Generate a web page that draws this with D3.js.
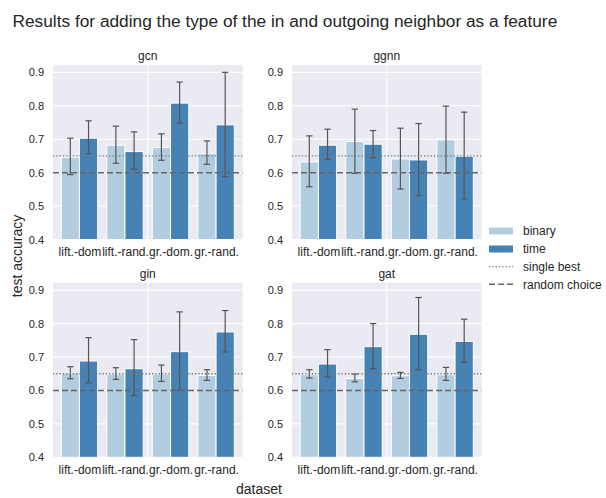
<!DOCTYPE html>
<html>
<head>
<meta charset="utf-8">
<script src="https://cdn.jsdelivr.net/npm/d3@7"></script>
<style>
  html, body { margin: 0; padding: 0; background: #ffffff; }
  svg { display: block; font-family: Arial, "Liberation Sans", sans-serif; }
</style>
</head>
<body>
<svg id="chart" width="606" height="498"></svg>
<script>
// Categories, models and hue levels
const datasets = ["lift.-dom", "lift.-rand.", "gr.-dom.", "gr.-rand."];
const models = ["gcn", "ggnn", "gin", "gat"];
const hues = ["binary", "time"];
const yTicks = [0.4, 0.5, 0.6, 0.7, 0.8, 0.9];

// Mean test accuracy and error-bar bounds per model and hue
const gcnBinary    = [0.646, 0.682, 0.675, 0.657];
const gcnBinaryLo  = [0.594, 0.628, 0.637, 0.625];
const gcnBinaryHi  = [0.703, 0.739, 0.716, 0.695];
const gcnTime      = [0.703, 0.663, 0.808, 0.743];
const gcnTimeLo    = [0.657, 0.610, 0.748, 0.588];
const gcnTimeHi    = [0.755, 0.722, 0.871, 0.900];

const ggnnBinary   = [0.632, 0.693, 0.641, 0.698];
const ggnnBinaryLo = [0.558, 0.598, 0.551, 0.598];
const ggnnBinaryHi = [0.710, 0.790, 0.733, 0.799];
const ggnnTime     = [0.682, 0.685, 0.638, 0.649];
const ggnnTimeLo   = [0.640, 0.644, 0.531, 0.521];
const ggnnTimeHi   = [0.730, 0.726, 0.747, 0.781];

const ginBinary    = [0.652, 0.649, 0.649, 0.645];
const ginBinaryLo  = [0.635, 0.633, 0.627, 0.630];
const ginBinaryHi  = [0.671, 0.668, 0.676, 0.662];
const ginTime      = [0.688, 0.665, 0.716, 0.775];
const ginTimeLo    = [0.623, 0.585, 0.601, 0.715];
const ginTimeHi    = [0.758, 0.752, 0.835, 0.839];

const gatBinary    = [0.647, 0.636, 0.644, 0.647];
const gatBinaryLo  = [0.637, 0.626, 0.636, 0.630];
const gatBinaryHi  = [0.662, 0.649, 0.654, 0.669];
const gatTime      = [0.679, 0.731, 0.768, 0.747];
const gatTimeLo    = [0.640, 0.665, 0.662, 0.685];
const gatTimeHi    = [0.722, 0.800, 0.878, 0.813];

// Reference levels
const singleBest = 0.65;
const randomChoice = 0.6;

const series = {
  gcn:  { binary: [gcnBinary, gcnBinaryLo, gcnBinaryHi],   time: [gcnTime, gcnTimeLo, gcnTimeHi] },
  ggnn: { binary: [ggnnBinary, ggnnBinaryLo, ggnnBinaryHi], time: [ggnnTime, ggnnTimeLo, ggnnTimeHi] },
  gin:  { binary: [ginBinary, ginBinaryLo, ginBinaryHi],   time: [ginTime, ginTimeLo, ginTimeHi] },
  gat:  { binary: [gatBinary, gatBinaryLo, gatBinaryHi],   time: [gatTime, gatTimeLo, gatTimeHi] }
};

const colors = { binary: "#b3cde0", time: "#4682b4" };
const textColor = "#262626";

const svg = d3.select("#chart");

// Figure title
svg.append("text")
  .attr("x", 12.5).attr("y", 26.5)
  .attr("font-size", 17.3).attr("fill", textColor)
  .text("Results for adding the type of the in and outgoing neighbor as a feature");

// Panel geometry
const colX = [53, 292];
const rowY = [65, 282.8];
const pw = 189.5, ph = 174.5;

const x = d3.scaleLinear().domain([-0.58, 3.58]).range([0, pw]);
const y = d3.scaleLinear().domain([0.4, 0.922]).range([ph, 0]);
const barW = x(0.4) - x(0);
const capW = x(0.14) - x(0);

models.forEach((m, i) => {
  const g = svg.append("g")
    .attr("transform", `translate(${colX[i % 2]},${rowY[Math.floor(i / 2)]})`);

  g.append("rect").attr("width", pw).attr("height", ph).attr("fill", "#eaeaf2");

  // Grid
  g.append("g").selectAll("line").data(yTicks).join("line")
    .attr("x1", 0).attr("x2", pw)
    .attr("y1", d => y(d)).attr("y2", d => y(d))
    .attr("stroke", "#ffffff").attr("stroke-width", 1.1);
  g.append("line")
    .attr("x1", x(1.5)).attr("x2", x(1.5)).attr("y1", 0).attr("y2", ph)
    .attr("stroke", "#ffffff").attr("stroke-width", 1.1);

  // Bars
  hues.forEach((h, hi) => {
    const [mean, lo, hiV] = series[m][h];
    const off = hi === 0 ? -0.4 : 0;
    g.append("g").selectAll("rect").data(mean).join("rect")
      .attr("x", (d, k) => x(k + off))
      .attr("y", d => y(d))
      .attr("width", barW)
      .attr("height", d => y(0.4) - y(d))
      .attr("fill", colors[h])
      .attr("stroke", "#ffffff").attr("stroke-width", 1);

    const eb = g.append("g").attr("stroke", "#555555").attr("stroke-width", 1.2).attr("fill", "none");
    mean.forEach((d, k) => {
      const cx = x(k + off + 0.2);
      eb.append("line").attr("x1", cx).attr("x2", cx).attr("y1", y(lo[k])).attr("y2", y(hiV[k]));
      eb.append("line").attr("x1", cx - capW / 2).attr("x2", cx + capW / 2).attr("y1", y(lo[k])).attr("y2", y(lo[k]));
      eb.append("line").attr("x1", cx - capW / 2).attr("x2", cx + capW / 2).attr("y1", y(hiV[k])).attr("y2", y(hiV[k]));
    });
  });

  // Reference lines
  g.append("line")
    .attr("x1", 0).attr("x2", pw).attr("y1", y(singleBest)).attr("y2", y(singleBest))
    .attr("stroke", "#777777").attr("stroke-width", 1.3).attr("stroke-dasharray", "1.3,2");
  g.append("line")
    .attr("x1", 0).attr("x2", pw).attr("y1", y(randomChoice)).attr("y2", y(randomChoice))
    .attr("stroke", "#666666").attr("stroke-width", 1.5).attr("stroke-dasharray", "6,3");

  // Axes
  const ya = g.append("g").call(d3.axisLeft(y).tickValues(yTicks).tickFormat(d3.format(".1f")).tickSize(0).tickPadding(9));
  ya.select(".domain").remove();
  ya.selectAll("text").attr("font-size", 11).attr("fill", textColor).attr("font-family", "Arial, 'Liberation Sans', sans-serif");

  const xa = g.append("g").attr("transform", `translate(0,${ph})`)
    .call(d3.axisBottom(x).tickValues([0, 1, 2, 3]).tickFormat(k => datasets[k]).tickSize(0).tickPadding(8));
  xa.select(".domain").remove();
  xa.selectAll("text").attr("font-size", 12).attr("fill", textColor).attr("font-family", "Arial, 'Liberation Sans', sans-serif");

  // Panel title
  g.append("text")
    .attr("x", pw / 2).attr("y", -5)
    .attr("text-anchor", "middle").attr("font-size", 12).attr("fill", textColor)
    .text(m);
});

// Axis labels
svg.append("text")
  .attr("transform", "translate(22,256) rotate(-90)")
  .attr("text-anchor", "middle").attr("font-size", 14).attr("fill", textColor)
  .text("test accuracy");
svg.append("text")
  .attr("x", 259).attr("y", 494)
  .attr("text-anchor", "middle").attr("font-size", 14).attr("fill", textColor)
  .text("dataset");

// Legend
const legend = svg.append("g").attr("transform", "translate(489,0)");
const rows = [231, 249, 266.7, 284.3];
hues.forEach((h, i) => {
  legend.append("rect").attr("x", 0).attr("y", rows[i] - 3.5).attr("width", 24).attr("height", 7).attr("fill", colors[h]);
});
legend.append("line").attr("x1", 0).attr("x2", 24).attr("y1", rows[2]).attr("y2", rows[2])
  .attr("stroke", "#777777").attr("stroke-width", 1.3).attr("stroke-dasharray", "1.3,2");
legend.append("line").attr("x1", 0).attr("x2", 24).attr("y1", rows[3]).attr("y2", rows[3])
  .attr("stroke", "#666666").attr("stroke-width", 1.5).attr("stroke-dasharray", "6,3");
["binary", "time", "single best", "random choice"].forEach((t, i) => {
  legend.append("text").attr("x", 34).attr("y", rows[i]).attr("dy", "0.35em")
    .attr("font-size", 12).attr("fill", textColor).text(t);
});
</script>
</body>
</html>
